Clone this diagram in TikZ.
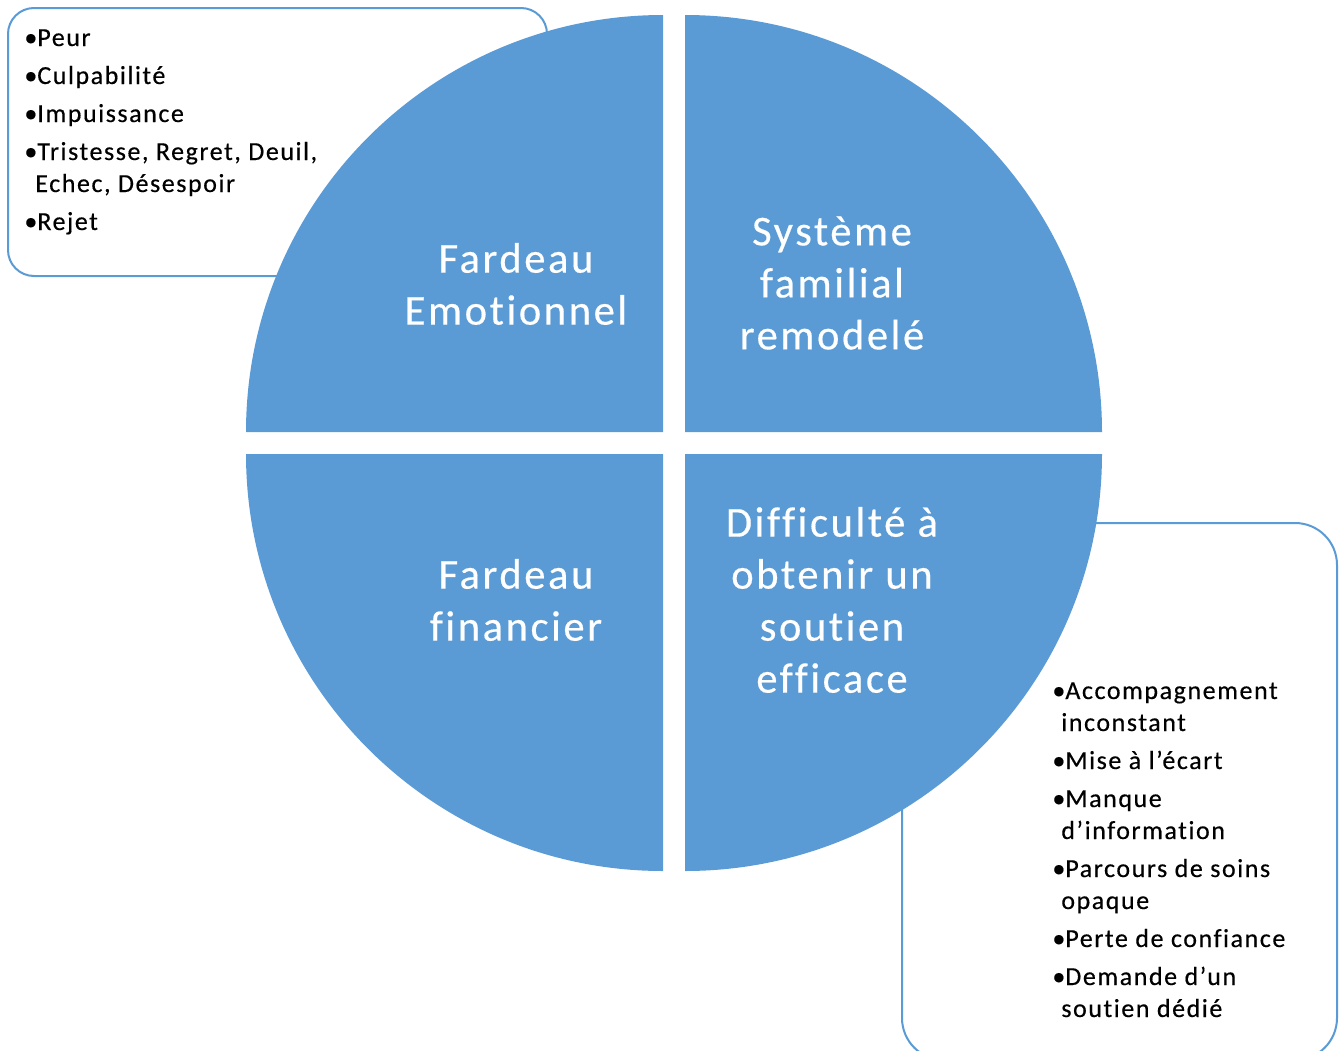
\documentclass[tikz,border=0pt]{standalone}
\usepackage{fontspec}
\setmainfont{Carlito}[LetterSpace=6, Ligatures={NoCommon}, FakeBold=0.4]
\usepackage{tikz}
\usepackage{xcolor}
\definecolor{wheel-blue}{HTML}{5B9BD5}
\tikzset{
    quadrant/.style = {fill=wheel-blue, draw=none},
    callout-box/.style = {draw=wheel-blue, line width=1pt, fill=white},
    quadrant-label/.style = {text=white, align=center, inner sep=0pt, font=\fontsize{21.3}{26}\selectfont},
    bullet-list/.style = {text=black, inner sep=0pt, anchor=base west, font=\fontsize{13}{16}\selectfont},
}

\begin{document}
\begin{tikzpicture}[x=0.5pt, y=0.5pt]
\useasboundingbox (0,0) rectangle (1339,-1050);

% callout boxes behind the wheel
\draw[callout-box, rounded corners=13pt] (8,-8) rectangle (547,-276);
\draw[callout-box, rounded corners=21pt] (902,-523) rectangle (1337,-1060);

% the four quarters
\fill[quadrant] (663,-432) -- (246,-432) arc[start angle=180, end angle=90, radius=417] -- cycle;
\fill[quadrant] (685,-432) -- (685,-15) arc[start angle=90, end angle=0, radius=417] -- cycle;
\fill[quadrant] (663,-454) -- (663,-871) arc[start angle=270, end angle=180, radius=417] -- cycle;
\fill[quadrant] (685,-454) -- (1102,-454) arc[start angle=0, end angle=-90, radius=417] -- cycle;

\node[quadrant-label] (emotional) at (516,-284) {Fardeau\\Emotionnel};
\node[quadrant-label] (family) at (832,-283) {Système\\familial\\remodelé};
\node[quadrant-label] (financial) at (516,-600) {Fardeau\\financier};
\node[quadrant-label] (support) at (832,-600) {Difficulté à\\obtenir un\\soutien\\efficace};

% bullet lists
\node[bullet-list] (emotions) at (24,-46) {\begin{tabular}[t]{@{}l@{}l@{}}
    •&Peur\\[3pt]
    •&Culpabilité\\[3pt]
    •&Impuissance\\[3pt]
    •&Tristesse, Regret, Deuil,\\
     &\hspace{-1pt}Echec, Désespoir\\[3pt]
    •&Rejet
\end{tabular}};
\node[bullet-list] (needs) at (1052,-699) {\begin{tabular}[t]{@{}l@{}l@{}}
    •&Accompagnement\\
     &\hspace{-2pt}inconstant\\[3pt]
    •&Mise à l’écart\\[3pt]
    •&Manque\\
     &\hspace{-2pt}d’information\\[3pt]
    •&Parcours de soins\\
     &\hspace{-2pt}opaque\\[3pt]
    •&Perte de confiance\\[3pt]
    •&Demande d’un\\
     &\hspace{-2pt}soutien dédié
\end{tabular}};
\end{tikzpicture}
\end{document}
